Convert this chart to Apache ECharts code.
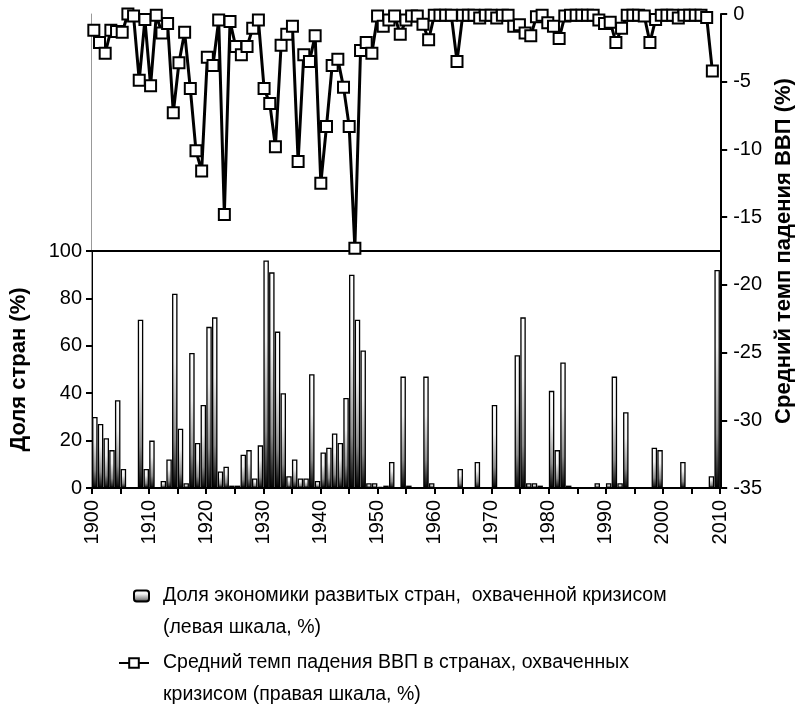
<!DOCTYPE html>
<html>
<head>
<meta charset="utf-8">
<script src="https://cdn.jsdelivr.net/npm/echarts@6/dist/echarts.min.js"></script>
<style>
  html, body { margin: 0; padding: 0; background: #fff; }
  #chart { width: 803px; height: 721px; }
</style>
</head>
<body>
<div id="chart"></div>
<script>
// годы 1900-2009
var years = [];
for (var y = 1900; y <= 2009; y++) years.push(String(y));

// доля экономики развитых стран, охваченной кризисом (левая шкала, %)
var shareVals = [
  30, 27, 21, 16, 37, 8, 0, 0, 71, 8,
  20, 0, 3, 12, 82, 25, 2, 57, 19, 35,
  68, 72, 7, 9, 1, 1, 14, 16, 4, 18,
  96, 91, 66, 40, 5, 12, 4, 4, 48, 3,
  15, 17, 23, 19, 38, 90, 71, 58, 2, 2,
  0.5, 1, 11, 0, 47, 1, 0, 0, 47, 2,
  0, 0, 0, 0, 8, 0, 0, 11, 0, 0,
  35, 0, 0, 0, 56, 72, 2, 2, 1, 0,
  41, 16, 53, 1, 0, 0, 0, 0, 2, 0,
  2, 47, 2, 32, 0, 0, 0, 0, 17, 16,
  0, 0, 0, 11, 0, 0, 0, 0, 5, 92
];

// средний темп падения ВВП (правая шкала, %)
var gdpVals = [
  -1.2, -2.1, -2.9, -1.2, -1.3, -1.35, 0, -0.15, -4.9, -0.4,
  -5.3, -0.1, -1.4, -0.7, -7.3, -3.6, -1.35, -5.5, -10.1, -11.6,
  -3.2, -3.8, -0.45, -14.8, -0.55, -2.4, -3.0, -2.4, -1.05, -0.45,
  -5.5, -6.6, -9.8, -2.3, -1.5, -0.9, -10.9, -3.0, -3.5, -1.6,
  -12.5, -8.3, -3.8, -3.35, -5.4, -8.3, -17.3, -2.7, -2.1, -2.9,
  -0.15, -0.9, -0.45, -0.15, -1.5, -0.45, -0.15, -0.15, -0.75, -1.9,
  -0.1, -0.1, -0.1, -0.1, -3.5, -0.1, -0.1, -0.1, -0.3, -0.1,
  -0.1, -0.3, -0.1, -0.1, -0.9, -0.8, -1.4, -1.6, -0.2, -0.1,
  -0.65, -0.9, -1.8, -0.15, -0.1, -0.1, -0.1, -0.1, -0.1, -0.45,
  -0.7, -0.6, -2.1, -1.05, -0.1, -0.1, -0.1, -0.15, -2.1, -0.4,
  -0.1, -0.1, -0.1, -0.3, -0.1, -0.1, -0.1, -0.1, -0.25, -4.2
];

var barName = 'Доля экономики развитых стран,  охваченной кризисом\n(левая шкала, %)';
var lineName = 'Средний темп падения ВВП в странах, охваченных\nкризисом (правая шкала, %)';

var font = 'Liberation Sans, Arial, sans-serif';
var barGrad = new echarts.graphic.LinearGradient(0, 0, 0, 1, [
  { offset: 0, color: '#ffffff' },
  { offset: 0.35, color: '#f0f0f0' },
  { offset: 0.75, color: '#8c8c8c' },
  { offset: 1, color: '#000000' }
]);

// пустая первая строка, чтобы значок стоял против первой строки подписи
function legendText(name) {
  return ' \n' + name;
}

var myChart = echarts.init(document.getElementById('chart'));
var options = {
  backgroundColor: '#fff',
  animation: false,
  textStyle: { fontFamily: font, color: '#000' },
  grid: [
    { left: 91, right: 83, top: 251, bottom: 233 },
    { left: 91, right: 83, top: 14, bottom: 233 }
  ],
  legend: [
    {
      data: [barName], orient: 'vertical', left: 133, top: 548, padding: 0,
      itemWidth: 15, itemHeight: 11, formatter: legendText,
      textStyle: { fontFamily: font, fontSize: 19.5, color: '#000', lineHeight: 32, padding: [0, 0, 0, 9] }
    },
    {
      data: [lineName], orient: 'vertical', left: 118, top: 615, padding: 0,
      itemWidth: 30, itemHeight: 12, formatter: legendText,
      textStyle: { fontFamily: font, fontSize: 19.5, color: '#000', lineHeight: 32, padding: [0, 0, 0, 9] }
    }
  ],
  xAxis: [
    { type: 'category', gridIndex: 0, data: years, show: false },
    {
      type: 'value', gridIndex: 0, position: 'bottom', min: 1900, max: 2010, interval: 5,
      axisLine: { show: true, lineStyle: { color: '#000', width: 2 } },
      axisTick: { show: true, length: 6, lineStyle: { color: '#000', width: 2 } },
      axisLabel: {
        rotate: 90, margin: 12, fontSize: 20, color: '#000', fontFamily: font,
        formatter: function (v) { return v % 10 === 0 ? String(v) : ''; }
      },
      splitLine: { show: false }
    },
    {
      type: 'value', gridIndex: 0, position: 'top', min: 1900, max: 2010,
      axisLine: { show: true, lineStyle: { color: '#000', width: 2 } },
      axisTick: { show: false }, axisLabel: { show: false }, splitLine: { show: false }
    },
    { type: 'category', gridIndex: 1, data: years, show: false }
  ],
  yAxis: [
    {
      type: 'value', gridIndex: 0, position: 'left', min: 0, max: 100, interval: 20,
      name: 'Доля стран (%)', nameLocation: 'middle', nameGap: 62, nameRotate: 90,
      nameTextStyle: { fontFamily: font, fontSize: 22, fontWeight: 'bold', color: '#000' },
      axisLine: { show: true, lineStyle: { color: '#000', width: 2 } },
      axisTick: { show: true, length: 6, lineStyle: { color: '#000', width: 2 } },
      axisLabel: { fontSize: 20, color: '#000', margin: 10, fontFamily: font },
      splitLine: { show: false }
    },
    {
      type: 'value', gridIndex: 1, position: 'right', offset: 6, min: -35, max: 0, interval: 5,
      name: 'Средний темп падения ВВП (%)', nameLocation: 'middle', nameGap: 48, nameRotate: 90,
      nameTextStyle: { fontFamily: font, fontSize: 22, fontWeight: 'bold', color: '#000' },
      axisLine: { show: true, lineStyle: { color: '#000', width: 2 } },
      axisTick: { show: true, length: 6, lineStyle: { color: '#000', width: 2 } },
      axisLabel: { fontSize: 20, color: '#000', margin: 12, fontFamily: font },
      splitLine: { show: false }
    },
    {
      type: 'value', gridIndex: 1, position: 'left', min: 0, max: 1,
      axisLine: { show: true, lineStyle: { color: '#999', width: 1 } },
      axisTick: { show: false }, axisLabel: { show: false }, splitLine: { show: false }
    }
  ],
  series: [
    {
      name: barName, type: 'bar', xAxisIndex: 0, yAxisIndex: 0,
      data: shareVals, barCategoryGap: '4%',
      itemStyle: { color: barGrad, borderColor: '#000', borderWidth: 1.3 }
    },
    {
      name: lineName, type: 'line', xAxisIndex: 3, yAxisIndex: 1,
      data: gdpVals, symbol: 'rect', symbolSize: 11, showAllSymbol: true,
      lineStyle: { color: '#000', width: 3 },
      itemStyle: { color: '#fff', borderColor: '#000', borderWidth: 2 },
      z: 5
    }
  ]
};
myChart.setOption(options);
</script>
</body>
</html>
